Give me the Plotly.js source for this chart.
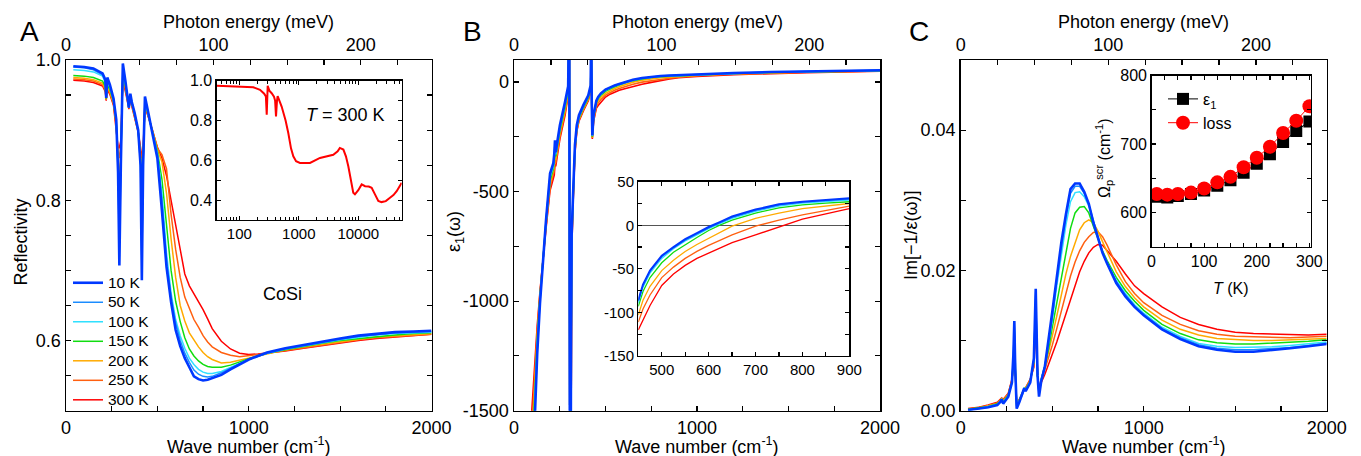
<!DOCTYPE html>
<html><head><meta charset="utf-8">
<script src="https://cdn.plot.ly/plotly-3.0.1.min.js"></script>
<style>html,body{margin:0;padding:0;background:#fff}#chart{width:1361px;height:456px}</style>
</head><body><div id="chart"></div>
<script>
// ---------- common ----------
const temps = ['10 K','50 K','100 K','150 K','200 K','250 K','300 K'];
const colors = ['#0038ff','#1a8cff','#30e0ff','#10dd10','#ffaa00','#ff6010','#ff0000'];
const meV_per_cm = 8.06554;

// ---------- Panel A: reflectivity ----------
const wnA = [40,100,150,200,215,220,226,240,260,275,285,292,300,311,325,338,344,352,360,375,395,408,415,422,432,450,475,500,525,550,575,600,625,650,675,700,725,750,775,800,850,900,950,1000,1050,1100,1200,1300,1400,1500,1600,1700,1800,1900,2000];
const R_10K  = [0.991,0.990,0.988,0.981, 0.972,0.946,0.975,0.965,0.945,0.915,0.84,0.707,0.85,0.995,0.97,0.945,0.932,0.952,0.94,0.925,0.90,0.85,0.686,0.85,0.948,0.925,0.895,0.86, 0.785,0.705,0.655,0.615,0.592,0.575,0.562,0.549,0.545,0.543,0.544,0.546,0.551,0.559,0.566,0.573,0.578,0.583,0.589,0.594,0.599,0.603,0.607,0.610,0.612,0.613,0.614];
const R_50K  = [0.990,0.989,0.986,0.979, 0.970,0.946,0.973,0.963,0.944,0.913,0.84,0.72,0.85,0.99,0.968,0.944,0.932,0.950,0.939,0.924,0.899,0.85,0.70,0.85,0.945,0.924,0.895,0.865, 0.80,0.715,0.662,0.625,0.600,0.582,0.569,0.558,0.552,0.549,0.548,0.549,0.554,0.561,0.567,0.573,0.578,0.582,0.588,0.593,0.598,0.602,0.606,0.609,0.611,0.612,0.613];
const R_100K = [0.986,0.985,0.983,0.977, 0.968,0.946,0.970,0.961,0.943,0.912,0.845,0.74,0.855,0.985,0.966,0.943,0.932,0.949,0.938,0.923,0.899,0.855,0.72,0.855,0.943,0.923,0.896,0.867, 0.81,0.725,0.668,0.630,0.607,0.589,0.575,0.566,0.559,0.555,0.553,0.553,0.556,0.562,0.568,0.573,0.578,0.582,0.588,0.593,0.597,0.601,0.605,0.608,0.610,0.611,0.612];
const R_150K = [0.978,0.977,0.975,0.970, 0.962,0.945,0.965,0.958,0.941,0.910,0.85,0.78,0.86,0.98,0.963,0.942,0.932,0.947,0.937,0.922,0.899,0.86,0.76,0.86,0.94,0.922,0.897,0.87, 0.83,0.76,0.70,0.656,0.627,0.604,0.588,0.578,0.571,0.566,0.563,0.562,0.562,0.565,0.570,0.574,0.578,0.582,0.587,0.592,0.596,0.600,0.603,0.606,0.608,0.610,0.611];
const R_200K = [0.975,0.974,0.972,0.967, 0.959,0.944,0.962,0.955,0.939,0.908,0.86,0.83,0.87,0.977,0.961,0.941,0.932,0.946,0.936,0.921,0.898,0.865,0.80,0.865,0.937,0.921,0.898,0.872, 0.855,0.81,0.745,0.69,0.65,0.628,0.611,0.600,0.591,0.583,0.577,0.573,0.568,0.569,0.572,0.576,0.579,0.582,0.587,0.591,0.595,0.599,0.602,0.605,0.607,0.609,0.610];
const R_250K = [0.973,0.972,0.970,0.965, 0.957,0.943,0.960,0.953,0.937,0.906,0.87,0.86,0.88,0.975,0.959,0.940,0.931,0.945,0.935,0.920,0.898,0.87,0.84,0.87,0.935,0.920,0.899,0.874, 0.865,0.845,0.78,0.73,0.69,0.662,0.645,0.630,0.619,0.607,0.598,0.591,0.583,0.579,0.577,0.578,0.580,0.582,0.586,0.590,0.594,0.598,0.601,0.604,0.606,0.608,0.609];
const R_300K = [0.971,0.970,0.968,0.963, 0.955,0.942,0.958,0.951,0.935,0.904,0.875,0.875,0.885,0.972,0.957,0.939,0.930,0.944,0.934,0.919,0.897,0.875,0.86,0.875,0.933,0.919,0.899,0.876, 0.86,0.835,0.80,0.765,0.73,0.695,0.678,0.667,0.656,0.644,0.631,0.617,0.599,0.588,0.582,0.580,0.581,0.582,0.585,0.589,0.593,0.597,0.600,0.603,0.605,0.607,0.609];
const R_all = [R_10K,R_50K,R_100K,R_150K,R_200K,R_250K,R_300K];

// inset A (300 K, broad band, log axis)
const insetA_wn = [42,100,172,223,262,280,289,300,320,350,383,400,414,430,441,515,600,666,740,809,900,1047,1300,1542,2270,3000,3800,4500,4900,5620,6200,6800,7500,8240,8790,10000,11400,13000,15000,16800,19000,21700,24600,29000,34100,39000,44200,53700];
const insetA_R  = [0.974,0.972,0.967,0.954,0.935,0.92,0.829,0.974,0.95,0.937,0.92,0.90,0.82,0.90,0.923,0.87,0.80,0.737,0.66,0.62,0.595,0.587,0.585,0.587,0.612,0.62,0.628,0.645,0.662,0.654,0.62,0.57,0.50,0.437,0.429,0.45,0.479,0.47,0.468,0.462,0.43,0.396,0.39,0.395,0.412,0.425,0.445,0.487];

// ---------- Panel B: eps1 ----------
const wnB_low  = [95,105,115,127,142,157,175,197,215,220,224,228,251,279,296,302,307,311,315,324,333,343,355,379,406,419,422,425,428,435];
const wnB_mid  = [450,460,475,500,525,550,575,600,625,650,700,750,800,850,900];
const wnB_high = [1000,1200,1400,1600,1800,2000];
const eps1Low_10K  = [-1950,-1720,-1500,-1238,-1010,-813,-630,-418,-370,-330,-266,-320,-197,-91,-20,400,-3000,-1400,-700,-486,-288,-197,-152,-106,-61,-15,250,-100,-243,-150];
const eps1Low_50K  = [-1900,-1680,-1470,-1220,-1000,-810,-632,-425,-378,-340,-275,-325,-205,-98,-25,400,-3000,-1420,-710,-492,-293,-201,-156,-110,-64,-18,250,-103,-245,-153];
const eps1Low_100K = [-1850,-1640,-1440,-1200,-990,-808,-636,-435,-385,-350,-285,-330,-212,-105,-30,400,-3000,-1440,-720,-498,-298,-205,-160,-113,-67,-21,250,-106,-247,-156];
const eps1Low_150K = [-1780,-1580,-1400,-1180,-980,-806,-642,-450,-395,-365,-300,-340,-222,-115,-38,400,-3000,-1460,-735,-505,-305,-211,-165,-118,-72,-26,250,-110,-250,-161];
const eps1Low_200K = [-1700,-1520,-1350,-1160,-970,-806,-650,-465,-410,-385,-325,-355,-235,-128,-46,400,-3000,-1480,-750,-512,-312,-217,-170,-123,-77,-31,250,-114,-253,-167];
const eps1Low_250K = [-1620,-1460,-1300,-1135,-962,-808,-660,-480,-425,-405,-350,-370,-248,-140,-54,400,-3000,-1500,-765,-520,-319,-222,-174,-127,-81,-36,250,-118,-256,-173];
const eps1Low_300K = [-1530,-1390,-1250,-1110,-955,-810,-670,-495,-440,-425,-375,-385,-260,-152,-62,400,-3000,-1520,-780,-528,-326,-228,-179,-132,-86,-41,250,-122,-260,-180];
const eps1Mid_10K  = [-86,-68,-52,-35,-25,-16,-9,-2,4,10,18,24,27,29,31];
const eps1Mid_50K  = [-87,-69,-53,-36,-26,-17,-10,-3,3,9,17,23,26.5,28.5,30];
const eps1Mid_100K = [-89,-71,-55,-38,-27,-18,-11,-4,2,8,16,22,25.5,27.5,29];
const eps1Mid_150K = [-93,-76,-60,-43,-31,-22,-14,-6,0.5,6,14,20,23.5,25.5,27];
const eps1Mid_200K = [-103,-86,-70,-52,-40,-30,-22,-15,-8,-1,8,14,19,22,25];
const eps1Mid_250K = [-111,-96,-80,-60,-48,-38,-30,-23,-17,-11,-1,6,12,17,22];
const eps1Mid_300K = [-120,-108,-92,-69,-56,-46,-38,-32,-26,-20,-11,-2,7,13,19];
const eps1High_10K  = [35,41,45,48,51,53];
const eps1High_50K  = [34.5,40.5,44.5,47.5,50.5,52.5];
const eps1High_100K = [33.5,39.5,44,47,50,52];
const eps1High_150K = [32,38.5,43,46,49,51.5];
const eps1High_200K = [30,37,42,45,48,51];
const eps1High_250K = [28,35.5,40.5,44,47,50];
const eps1High_300K = [25,33,38.5,42.5,46,49];
const eps1Low  = [eps1Low_10K,eps1Low_50K,eps1Low_100K,eps1Low_150K,eps1Low_200K,eps1Low_250K,eps1Low_300K];
const eps1Mid  = [eps1Mid_10K,eps1Mid_50K,eps1Mid_100K,eps1Mid_150K,eps1Mid_200K,eps1Mid_250K,eps1Mid_300K];
const eps1High = [eps1High_10K,eps1High_50K,eps1High_100K,eps1High_150K,eps1High_200K,eps1High_250K,eps1High_300K];

// ---------- Panel C: loss function ----------
const wnC = [40,100,150,200,215,224,232,260,280,288,293,298,306,320,340,347,355,380,400,405,410,415,420,428,440,460,480,500,525,550,575,600,625,650,675,700,725,750,775,800,850,900,950,1000,1100,1200,1300,1400,1500,1600,1700,1800,1900,2000];
const L_10K  = [0.0001,0.0003,0.0005,0.0008,0.0012,0.0016,0.0010,0.0020,0.0040,0.0080,0.0128,0.0060,0.0003,0.0012,0.0025,0.0032,0.0028,0.0040,0.0075,0.0120,0.0174,0.0110,0.0050,0.0020, 0.0042,0.0063,0.0098,0.0140,0.0190,0.0240,0.0280,0.0316,0.0324,0.0324,0.0312,0.0295,0.0268,0.0245,0.0225,0.0210,0.0182,0.0163,0.0148,0.0136,0.0116,0.0102,0.0092,0.0087,0.0084,0.0084,0.0086,0.0089,0.0092,0.0095];
const L_50K  = [0.0001,0.0003,0.0005,0.0009,0.0012,0.0016,0.0011,0.0021,0.0040,0.0078,0.0125,0.0060,0.0004,0.0013,0.0025,0.0032,0.0029,0.0041,0.0074,0.0118,0.0170,0.0108,0.0050,0.0022, 0.0044,0.0064,0.0096,0.0132,0.0185,0.0235,0.0277,0.0310,0.0320,0.0320,0.0310,0.0294,0.0270,0.0246,0.0226,0.0210,0.0184,0.0165,0.0149,0.0137,0.0117,0.0104,0.0094,0.0089,0.0087,0.0087,0.0088,0.0090,0.0093,0.0096];
const L_100K = [0.0001,0.0003,0.0006,0.0009,0.0013,0.0016,0.0012,0.0021,0.0040,0.0076,0.0120,0.0058,0.0005,0.0014,0.0026,0.0032,0.0030,0.0041,0.0072,0.0115,0.0165,0.0105,0.0050,0.0024, 0.0045,0.0064,0.0093,0.0128,0.0178,0.0224,0.0265,0.0298,0.0311,0.0312,0.0305,0.0292,0.0268,0.0246,0.0226,0.0211,0.0186,0.0167,0.0151,0.0139,0.0119,0.0106,0.0096,0.0092,0.0090,0.0090,0.0091,0.0093,0.0095,0.0098];
const L_150K = [0.0002,0.0004,0.0006,0.0010,0.0013,0.0017,0.0013,0.0022,0.0041,0.0073,0.0115,0.0057,0.0006,0.0015,0.0026,0.0032,0.0031,0.0042,0.0070,0.0110,0.0160,0.0102,0.0050,0.0026, 0.0045,0.0064,0.0088,0.0118,0.0155,0.0190,0.0228,0.0260,0.0282,0.0290,0.0291,0.0282,0.0263,0.0245,0.0228,0.0214,0.0190,0.0171,0.0156,0.0143,0.0123,0.0110,0.0101,0.0097,0.0095,0.0095,0.0096,0.0097,0.0099,0.0101];
const L_200K = [0.0002,0.0004,0.0007,0.0010,0.0014,0.0017,0.0014,0.0023,0.0042,0.0070,0.0110,0.0056,0.0007,0.0015,0.0027,0.0031,0.0032,0.0043,0.0068,0.0105,0.0150,0.0098,0.0050,0.0029, 0.0044,0.0062,0.0083,0.0106,0.0135,0.0165,0.0195,0.0220,0.0240,0.0258,0.0268,0.0272,0.0268,0.0256,0.0241,0.0226,0.0198,0.0177,0.0161,0.0148,0.0129,0.0116,0.0108,0.0103,0.0101,0.0100,0.0100,0.0101,0.0102,0.0103];
const L_250K = [0.0002,0.0005,0.0007,0.0011,0.0015,0.0018,0.0015,0.0024,0.0043,0.0066,0.0095,0.0054,0.0008,0.0016,0.0027,0.0031,0.0032,0.0044,0.0065,0.0098,0.0135,0.0092,0.0050,0.0032, 0.0042,0.0058,0.0075,0.0093,0.0117,0.0142,0.0168,0.0192,0.0212,0.0228,0.0240,0.0248,0.0254,0.0255,0.0248,0.0236,0.0208,0.0184,0.0167,0.0154,0.0136,0.0123,0.0114,0.0109,0.0106,0.0105,0.0104,0.0104,0.0105,0.0106];
const L_300K = [0.0003,0.0005,0.0008,0.0012,0.0016,0.0018,0.0016,0.0025,0.0045,0.0062,0.0085,0.0052,0.0009,0.0016,0.0028,0.0030,0.0033,0.0045,0.0062,0.0090,0.0120,0.0088,0.0050,0.0035, 0.0040,0.0052,0.0065,0.0080,0.0098,0.0118,0.0140,0.0160,0.0180,0.0198,0.0213,0.0225,0.0233,0.0237,0.0236,0.0228,0.0213,0.0195,0.0178,0.0167,0.0148,0.0133,0.0123,0.0116,0.0112,0.0110,0.0109,0.0108,0.0108,0.0109];
const L_all = [L_10K,L_50K,L_100K,L_150K,L_200K,L_250K,L_300K];

// inset C: screened plasma frequency
const T_scr = [10,30,50,75,100,125,150,175,200,225,250,275,300];
const omega_eps1 = [623,622,624,627,632,639,647,658,671,685,703,719,733];
const omega_loss = [627,626,627,629,635,644,652,666,680,696,716,734,755];

// tick labels
const epsB_tickvals = [-1500,-1250,-1000,-750,-500,-250,0];
const epsB_ticktext = ['-1500','','-1000','','-500','','0'];
const epsInset_tickvals = [-150,-125,-100,-75,-50,-25,0,25,50];
const epsInset_ticktext = ['-150','','-100','','-50','','0','','50'];

// ---------- layout helpers ----------
const FONT = 'Liberation Sans, Arial, Helvetica, sans-serif';
const W = 1361, H = 456;
const fx = v => v / W, fy = v => 1 - v / H;
function minor(dt, len) { return {ticks:'inside', ticklen:len||5, tickwidth:1.2, tickcolor:'#000', dtick:dt, showgrid:false}; }
function axis(extra, fs, lw) {
  return Object.assign({
    showline:true, linecolor:'#000', linewidth:lw||1.5,
    ticks:'inside', ticklen:5, tickwidth:1.2, tickcolor:'#000',
    mirror:'ticks', showgrid:false, zeroline:false,
    tickfont:{family:FONT, size:fs||18, color:'#000'}, fixedrange:true
  }, extra);
}
const yMain = [fy(410.7), fy(60)];

const traces = [];
// Panel A main
for (let i = 6; i >= 0; i--) {
  traces.push({x:wnA, y:R_all[i], xaxis:'x', yaxis:'y', mode:'lines',
    name:'<span style="font-size:15.5px">' + temps[i] + '</span>',
    line:{color:colors[i], width: i===0 ? 2.6 : 1.5}, legend:'legend', showlegend:true, hoverinfo:'skip'});
}
traces.push({x:[], y:[], xaxis:'x2', yaxis:'y', mode:'lines', showlegend:false, hoverinfo:'skip'});
traces.push({x:insetA_wn, y:insetA_R, xaxis:'x3', yaxis:'y3', mode:'lines', line:{color:'#ff0000', width:2}, showlegend:false, hoverinfo:'skip'});
// Panel B main
for (let i = 6; i >= 0; i--) {
  traces.push({x:wnB_low.concat(wnB_mid, wnB_high), y:eps1Low[i].concat(eps1Mid[i], eps1High[i]),
    xaxis:'x4', yaxis:'y4', mode:'lines', line:{color:colors[i], width: i===0 ? 2.6 : 1.6}, showlegend:false, hoverinfo:'skip'});
}
traces.push({x:[], y:[], xaxis:'x5', yaxis:'y4', mode:'lines', showlegend:false, hoverinfo:'skip'});
for (let i = 6; i >= 0; i--) {
  traces.push({x:wnB_mid, y:eps1Mid[i], xaxis:'x6', yaxis:'y6', mode:'lines',
    line:{color:colors[i], width: i===0 ? 2 : 1.3}, showlegend:false, hoverinfo:'skip'});
}
// Panel C main
for (let i = 6; i >= 0; i--) {
  traces.push({x:wnC, y:L_all[i], xaxis:'x7', yaxis:'y7', mode:'lines',
    line:{color:colors[i], width: i===0 ? 2.6 : 1.5}, showlegend:false, hoverinfo:'skip'});
}
traces.push({x:[], y:[], xaxis:'x8', yaxis:'y7', mode:'lines', showlegend:false, hoverinfo:'skip'});
traces.push({x:T_scr, y:omega_eps1, xaxis:'x9', yaxis:'y9', mode:'lines+markers', name:'ε<sub>1</sub>',
  marker:{symbol:'square', size:12, color:'#000'}, line:{color:'#000', width:1}, legend:'legend2', showlegend:true, hoverinfo:'skip'});
traces.push({x:T_scr, y:omega_loss, xaxis:'x9', yaxis:'y9', mode:'lines+markers', name:'loss',
  marker:{symbol:'circle', size:14, color:'#ff0000'}, line:{color:'#ff0000', width:1}, legend:'legend2', showlegend:true, hoverinfo:'skip'});

const topRange = [0, 2000 / meV_per_cm];
function ann(text, x, y, size, extra) {
  return Object.assign({text:text, x:fx(x), y:fy(y), xref:'paper', yref:'paper', showarrow:false,
    xanchor:'center', yanchor:'middle', font:{family:FONT, size:size, color:'#000'}}, extra||{});
}

const layout = {
  width:W, height:H, margin:{l:0,r:0,t:0,b:0}, paper_bgcolor:'#fff', plot_bgcolor:'rgba(0,0,0,0)',
  font:{family:FONT, color:'#000'}, showlegend:true,
  // Panel A
  xaxis: axis({domain:[fx(66), fx(431.5)], anchor:'y', range:[0,2000], dtick:1000, tick0:0, mirror:false, minor:minor(250)}),
  xaxis2: axis({overlaying:'x', side:'top', anchor:'y', range:topRange, dtick:100, tick0:0, mirror:false, minor:minor(25)}),
  yaxis: axis({domain:yMain, anchor:'x', range:[0.5,1.0], dtick:0.2, tick0:0, tickformat:'.1f', minor:minor(0.05)}),
  xaxis3: axis({domain:[fx(216.7), fx(401.7)], anchor:'y3', type:'log', range:[1.62,4.73], dtick:1, tickformat:'d', ticklen:4, minor:{ticks:'inside', ticklen:3, tickwidth:1, tickcolor:'#000', showgrid:false}}, 15, 1.3),
  yaxis3: axis({domain:[fy(220), fy(80.7)], anchor:'x3', range:[0.3,1.0], dtick:0.2, tick0:0, tickformat:'.1f', ticklen:4, minor:minor(0.1,4)}, 16, 1.3),
  // Panel B
  xaxis4: axis({domain:[fx(514), fx(880)], anchor:'y4', range:[0,2000], dtick:1000, tick0:0, mirror:false, minor:minor(250)}),
  xaxis5: axis({overlaying:'x4', side:'top', anchor:'y4', range:topRange, dtick:100, tick0:0, mirror:false, minor:minor(25)}),
  yaxis4: axis({domain:yMain, anchor:'x4', range:[-1500,100], tickmode:'array', tickvals:epsB_tickvals, ticktext:epsB_ticktext}),
  xaxis6: axis({domain:[fx(638.3), fx(849.3)], anchor:'y6', range:[450,900], dtick:100, tick0:0, ticklen:4, minor:minor(50,4)}, 15, 1.3),
  yaxis6: axis({domain:[fy(356), fy(181.7)], anchor:'x6', range:[-150,50], tickmode:'array', tickvals:epsInset_tickvals, ticktext:epsInset_ticktext, ticklen:4,
    zeroline:true, zerolinecolor:'#555', zerolinewidth:1}, 15, 1.3),
  // Panel C
  xaxis7: axis({domain:[fx(960.7), fx(1326.7)], anchor:'y7', range:[0,2000], dtick:1000, tick0:0, mirror:false, minor:minor(250)}),
  xaxis8: axis({overlaying:'x7', side:'top', anchor:'y7', range:topRange, dtick:100, tick0:0, mirror:false, minor:minor(25)}),
  yaxis7: axis({domain:yMain, anchor:'x7', range:[0,0.05], dtick:0.02, tick0:0, tickformat:'.2f', minor:minor(0.01)}),
  xaxis9: axis({domain:[fx(1151.5), fx(1311)], anchor:'y9', range:[0,303], dtick:100, tick0:0, ticklen:4, minor:minor(25,4)}, 16, 1.3),
  yaxis9: axis({domain:[fy(246.7), fy(75.5)], anchor:'x9', range:[550,800], dtick:100, tick0:0, ticklen:4, minor:minor(50,4)}, 16, 1.3),
  legend: {x:fx(68), y:fy(268), xanchor:'left', yanchor:'top', bgcolor:'rgba(0,0,0,0)', borderwidth:0,
    font:{family:FONT, size:12.7, color:'#000'}, traceorder:'reversed', tracegroupgap:0, itemwidth:30},
  legend2: {x:fx(1163), y:fy(82), xanchor:'left', yanchor:'top', bgcolor:'rgba(0,0,0,0)', borderwidth:0,
    font:{family:FONT, size:16, color:'#000'}, tracegroupgap:0, itemwidth:30},
  annotations: [
    ann('A', 29, 31, 28), ann('B', 472, 31, 28), ann('C', 919, 31, 28),
    ann('Photon energy (meV)', 248.7, 21.5, 18), ann('Photon energy (meV)', 697, 21.5, 18), ann('Photon energy (meV)', 1143.7, 21.5, 18),
    ann('Wave number (cm<sup>-1</sup>)', 248.7, 445, 18), ann('Wave number (cm<sup>-1</sup>)', 697, 445, 18), ann('Wave number (cm<sup>-1</sup>)', 1143.7, 445, 18),
    ann('Reflectivity', 20.5, 242, 18, {textangle:-90}),
    ann('ε<sub>1</sub>(ω)', 455, 232, 18, {textangle:-90}),
    ann('Im[−1/ε(ω)]', 911, 235, 18, {textangle:-90}),
    ann('CoSi', 282, 294, 18),
    ann('<i>T</i> = 300 K', 345, 115, 18),
    ann('<i>T</i> (K)', 1231, 288, 16),
    ann('Ω<sub>p</sub><sup>scr</sup> (cm<sup>-1</sup>)', 1104, 158, 16, {textangle:-90})
  ]
};

Plotly.newPlot('chart', traces, layout, {staticPlot:true, displayModeBar:false});
</script></body></html>
